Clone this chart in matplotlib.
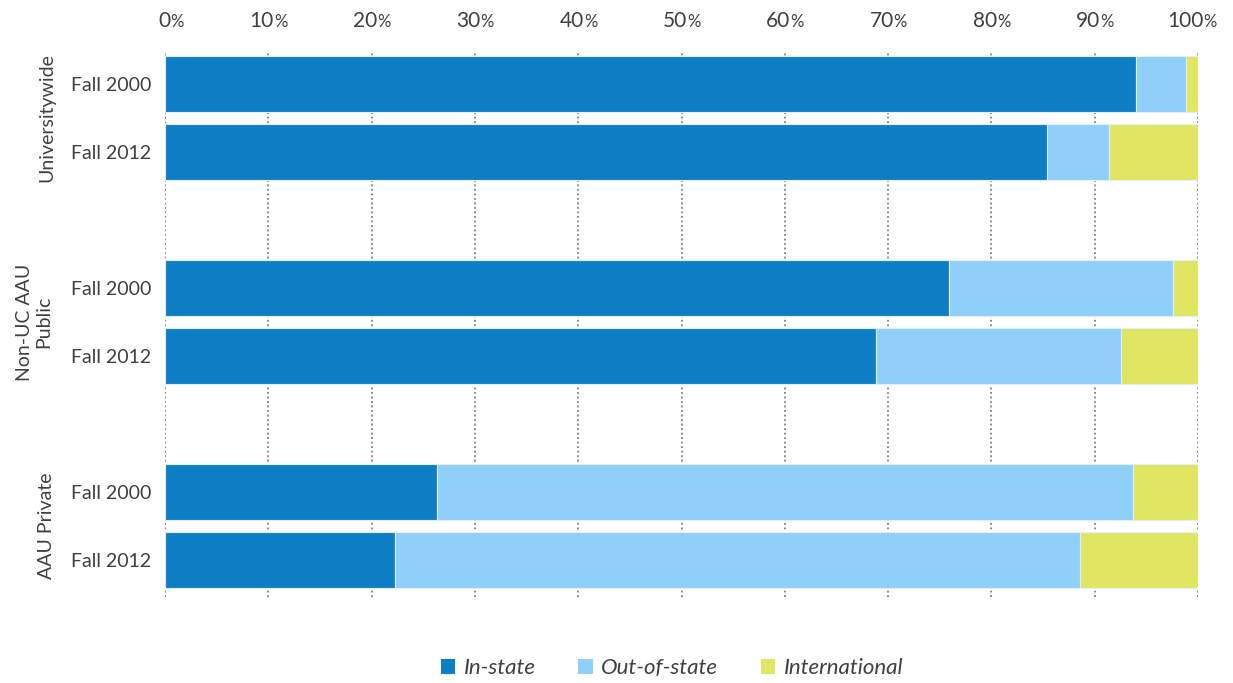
import numpy as np
import matplotlib.pyplot as plt
from matplotlib.patches import Patch

plt.rcParams['font.family'] = ['Lato', 'DejaVu Sans']

# Data (percent of enrolled students)
groups = ['Universitywide', 'Non-UC AAU\nPublic', 'AAU Private']
years = ['Fall 2000', 'Fall 2012']
in_state = [94.0, 85.4, 75.9, 68.8, 26.3, 22.3]
out_of_state = [4.8, 6.0, 21.7, 23.7, 67.4, 66.3]
international = [1.2, 8.6, 2.4, 7.5, 6.3, 11.4]
ticks = [0, 10, 20, 30, 40, 50, 60, 70, 80, 90, 100]

colors = ['#0f7fc5', '#90cff8', '#e0e661']
names = ['In-state', 'Out-of-state', 'International']
text_col = '#404040'

W, H = 1233, 683
fig = plt.figure(figsize=(W / 100, H / 100), dpi=100, facecolor='w')
ax = fig.add_axes([165 / W, 1 - 597 / H, 1033 / W, 545 / H])

# bar positions: two bars per group, gap of one slot between groups
pos = []
for g in range(len(groups)):
    pos += [g * 3, g * 3 + 1]
pos = np.array(pos)

left = np.zeros(len(pos))
for vals, c in zip([in_state, out_of_state, international], colors):
    ax.barh(pos, vals, left=left, height=0.82, color=c,
            edgecolor='#dff0fb', linewidth=0.8, zorder=2)
    left += np.array(vals)

ax.set_xlim(0, 100)
ax.set_ylim(7.54, -0.47)
ax.set_xticks(ticks)
ax.set_xticklabels([])
ax.tick_params(axis='x', length=0, top=False, bottom=False)
ax.set_yticks(pos)
ax.set_yticklabels(years * len(groups), fontsize=14, color=text_col)
ax.tick_params(axis='y', length=0, pad=10)
for s in ax.spines.values():
    s.set_visible(False)
ax.grid(axis='x', color='#808080', linestyle=(0, (1, 1.5)), linewidth=1.3, zorder=0)

# top tick labels with a smaller percent sign
for t in ticks:
    ax.annotate(str(t), xy=(t, 1), xycoords=('data', 'axes fraction'),
                xytext=(4, 18), textcoords='offset points', ha='right', va='baseline',
                fontsize=15, color=text_col, annotation_clip=False)
    ax.annotate('%', xy=(t, 1), xycoords=('data', 'axes fraction'),
                xytext=(4, 18), textcoords='offset points', ha='left', va='baseline',
                fontsize=12, color=text_col, annotation_clip=False)

# group labels (x in figure pixels)
label_x = [47, 34, 47]
for g, name in enumerate(groups):
    y = g * 3 + 0.5
    ax.annotate(name, xy=(label_x[g] / W, y), xycoords=(fig.transFigure, ax.transData),
                rotation=90, ha='center', va='center', multialignment='center',
                fontsize=14, color=text_col, linespacing=1.15, annotation_clip=False)

handles = [Patch(facecolor=c, edgecolor='none') for c in colors]
leg = fig.legend(handles, names, loc='center', bbox_to_anchor=(0.545, 1 - 668 / H),
                 ncol=3, frameon=False, handlelength=0.65, handleheight=0.65,
                 handletextpad=0.4, columnspacing=1.9,
                 prop={'size': 16, 'style': 'italic'})
for t in leg.get_texts():
    t.set_color(text_col)

fig.savefig('out.png', dpi=100, facecolor='w')
